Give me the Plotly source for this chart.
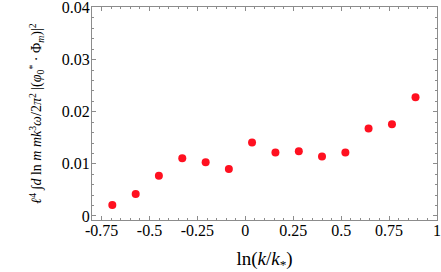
import plotly.graph_objects as go

# data
ln_k = [-0.694, -0.572, -0.451, -0.329, -0.207, -0.086, 0.035, 0.157,
        0.279, 0.400, 0.522, 0.643, 0.765, 0.888]
amp = [0.0021, 0.0042, 0.0077, 0.0111, 0.0103, 0.0090, 0.0141, 0.0122,
       0.0124, 0.0114, 0.0122, 0.0168, 0.0176, 0.0228]

x_ticks = [-0.75, -0.5, -0.25, 0, 0.25, 0.5, 0.75, 1]
x_tick_text = ["-0.75", "-0.5", "-0.25", "0", "0.25", "0.5", "0.75", "1"]
y_ticks = [0, 0.01, 0.02, 0.03, 0.04]
y_tick_text = ["0", "0.01", "0.02", "0.03", "0.04"]

font_family = "Liberation Serif, DejaVu Serif, serif"
frame_col = "#8c8c8c"

fig = go.Figure()
fig.add_trace(go.Scatter(
    x=ln_k, y=amp, mode="markers",
    marker=dict(color="#ff1020", size=8, line=dict(width=0)),
    showlegend=False, cliponaxis=False,
))

axis_common = dict(
    showgrid=False, zeroline=False, showline=True, linecolor=frame_col,
    linewidth=1, mirror="allticks", ticks="inside", tickcolor=frame_col,
    ticklen=4, tickwidth=1, ticklabeloverflow="allow",
    tickfont=dict(family=font_family, size=16, color="black"),
)

fig.update_xaxes(
    range=[-0.8, 1.0], tickvals=x_ticks, ticktext=x_tick_text,
    ticklabelstandoff=-4,
    minor=dict(dtick=0.05, tick0=0, ticks="inside", ticklen=2,
               tickcolor=frame_col, showgrid=False),
    title=dict(text="ln(<i>k</i>/<i>k</i><sub>*</sub>)",
               font=dict(family=font_family, size=19, color="black"),
               standoff=15),
    **axis_common,
)
fig.update_yaxes(
    range=[-0.00077, 0.0401], tickvals=y_ticks, ticktext=y_tick_text,
    ticklabelstandoff=-2,
    minor=dict(dtick=0.002, tick0=0, ticks="inside", ticklen=2,
               tickcolor=frame_col, showgrid=False),
    title=dict(text="<i>ℓ</i><sup>4</sup> ∫<i>d</i> ln <i>m</i> "
                    "<i>mk</i><sup>3</sup><i>ω</i>/2<i>π</i><sup>2</sup>"
                    " |(<i>φ</i><sub>0</sub><sup>*</sup> · Φ<sub><i>m</i></sub>)|<sup>2</sup>",
               font=dict(family=font_family, size=14, color="black"),
               standoff=16),
    **axis_common,
)

fig.update_layout(
    width=441, height=272,
    margin=dict(l=92, r=4, t=7, b=52, autoexpand=False),
    plot_bgcolor="white", paper_bgcolor="white",
)

fig.write_html(
    "out.html",
    config={"displayModeBar": False},
    post_script="document.body.style.margin='0';document.body.style.overflow='hidden';",
)
